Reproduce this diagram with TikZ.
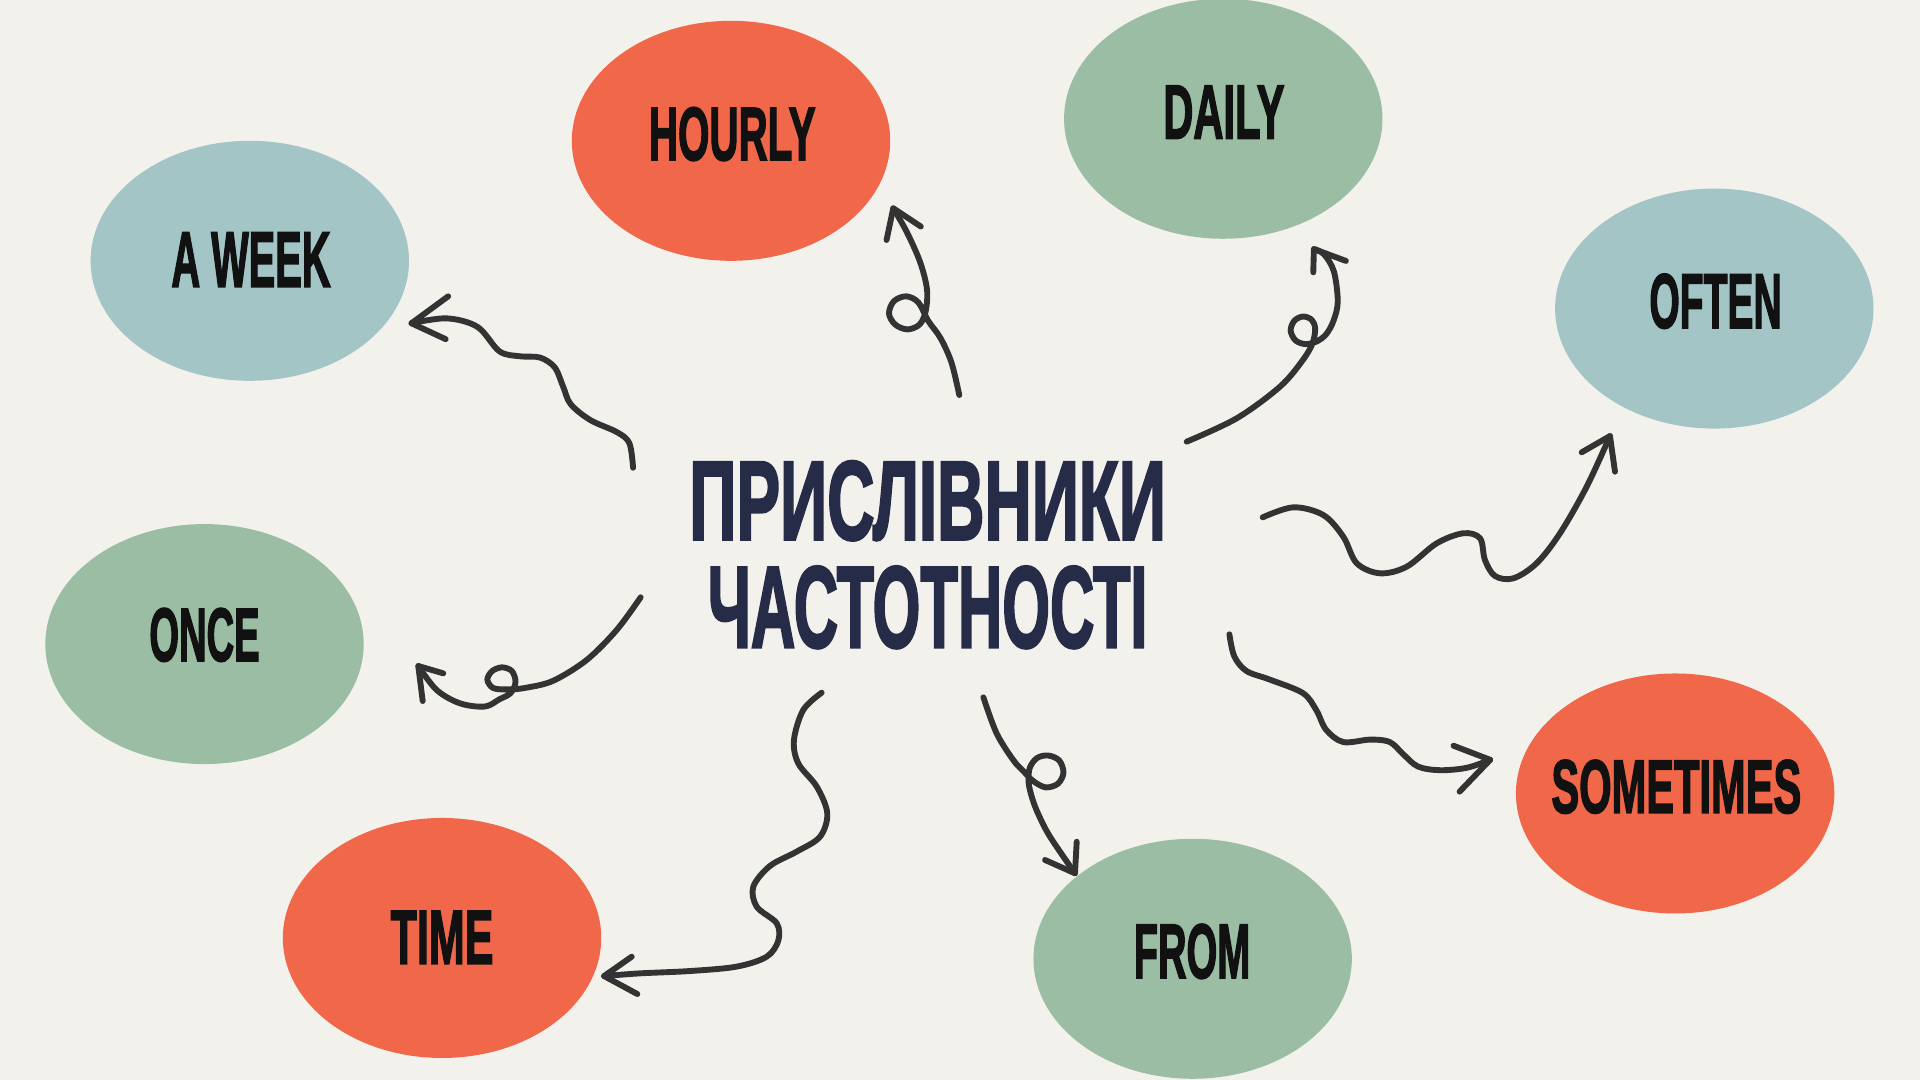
\documentclass[tikz,border=0pt]{standalone}
\usepackage{fontspec}
\usepackage{graphicx}
\newfontfamily\labfont[FakeBold=2.5]{Liberation Sans Bold}
\usetikzlibrary{shapes.geometric}
\definecolor{bg}{HTML}{F2F1EC}
\definecolor{redc}{HTML}{F0674A}
\definecolor{greenc}{HTML}{9BBDA3}
\definecolor{bluec}{HTML}{A3C5C5}
\definecolor{labc}{HTML}{111111}
\definecolor{titlec}{HTML}{262B47}
\definecolor{linec}{HTML}{333333}
\newcommand\fitbox[3]{\resizebox{#1pt}{#2pt}{#3}}
\tikzset{
  blob/.style={ellipse, minimum width=260pt, minimum height=196pt, inner sep=0pt, draw=none},
  lab/.style={inner sep=0pt, font=\labfont, text=labc},
  ttl/.style={inner sep=0pt, font=\labfont, text=titlec},
  conn/.style={draw=linec, line width=4.8pt, line cap=round, line join=round},
  wig/.style={smooth, tension=0.55}
}
\begin{document}
\begin{tikzpicture}[x=1pt,y=-1pt]
\useasboundingbox (0,0) rectangle (1568,882);
\fill[bg] (0,0) rectangle (1568,882);

% ellipses
\node[blob, fill=redc]   (hourly) at (597,115) {};
\node[blob, fill=greenc] (daily)  at (999,97) {};
\node[blob, fill=bluec]  (aweek)  at (204,213) {};
\node[blob, fill=bluec]  (often)  at (1400,252) {};
\node[blob, fill=greenc] (once)   at (167,526) {};
\node[blob, fill=redc]   (sometimes) at (1368,648) {};
\node[blob, fill=redc]   (time)   at (361,766) {};
\node[blob, fill=greenc] (from)   at (974,783) {};

% labels
\node[lab] (thourly) at (598,109.5) {\fitbox{136}{43}{HOURLY}};
\node[lab] (tdaily)  at (999.5,91.5) {\fitbox{99}{43}{DAILY}};
\node[lab] (taweek)  at (205,212) {\fitbox{130}{44}{A WEEK}};
\node[lab] (toften)  at (1401,246) {\fitbox{108}{44}{OFTEN}};
\node[lab] (tonce)   at (167,518.5) {\fitbox{90}{43}{ONCE}};
\node[lab] (tsome)   at (1369,642.5) {\fitbox{204}{43}{SOMETIMES}};
\node[lab] (ttime)   at (361,765.5) {\fitbox{84}{43}{TIME}};
\node[lab] (tfrom)   at (973.5,777) {\fitbox{95}{44}{FROM}};

% title
\node[ttl] (title1) at (757.5,409) {\fitbox{389}{64}{ПРИСЛІВНИКИ}};
\node[ttl] (title2) at (757.5,496) {\fitbox{359}{66}{ЧАСТОТНОСТІ}};

% connector end points
\coordinate (aw-s) at (517,382);
\coordinate (aw-t) at (336,264);
\coordinate (aw-a1) at (366,242);
\coordinate (aw-a2) at (364,277);

\coordinate (ho-s) at (783.4,322.6);
\coordinate (ho-t) at (729.5,170.1);
\coordinate (ho-a1) at (724,196);
\coordinate (ho-a2) at (752,185);

\coordinate (da-s) at (969.1,360.7);
\coordinate (da-t) at (1073,203.4);
\coordinate (da-a1) at (1072.5,222.4);
\coordinate (da-a2) at (1099.2,213.1);

\coordinate (of-s) at (1031.2,422.5);
\coordinate (of-t) at (1314.8,356.1);
\coordinate (of-a1) at (1291.7,369.4);
\coordinate (of-a2) at (1318.9,385.2);

\coordinate (on-s) at (523.2,487.8);
\coordinate (on-t) at (341.6,543.9);
\coordinate (on-a1) at (362,549.9);
\coordinate (on-a2) at (345.2,572.5);

\coordinate (ti-s) at (671,565.7);
\coordinate (ti-t) at (493.3,797.1);
\coordinate (ti-a1) at (515.9,781.3);
\coordinate (ti-a2) at (520.5,811.8);

\coordinate (fr-s) at (803.1,569.5);
\coordinate (fr-t) at (877.9,713.2);
\coordinate (fr-a1) at (853.4,702.3);
\coordinate (fr-a2) at (879.3,687.4);

\coordinate (so-s) at (1004,518);
\coordinate (so-t) at (1217,620.5);
\coordinate (so-a1) at (1187,609);
\coordinate (so-a2) at (1192,646.5);

% A WEEK
\draw[conn] plot[wig] coordinates {(aw-s) (514,362) (504,353) (482,343) (466,330) (460,316) (453,300) (441,292) (425,291) (408,287) (390,267) (365,260) (aw-t)};
\draw[conn] (aw-a1) -- (aw-t) -- (aw-a2);

% HOURLY
\draw[conn] plot[wig] coordinates {(ho-s) (777,296) (768,276) (758,262) (750,247) (740,242) (730,246) (726,256) (731,265) (741,269) (751,265) (756,254) (757,236) (751.3,213.7) (740.4,189.2) (ho-t)};
\draw[conn] (ho-a1) -- (ho-t) -- (ho-a2);

% DAILY
\draw[conn] plot[wig] coordinates {(da-s) (1010,341.6) (1045.3,315.8) (1064,294) (1072,280) (1074,268) (1071,261) (1064,258.5) (1057,262) (1054,270) (1058,278) (1066,281) (1075,279) (1083,273) (1089,262) (1092.5,246.4) (1089.4,221.9) (1081.3,207.7) (da-t)};
\draw[conn] (da-a1) -- (da-t) -- (da-a2);

% OFTEN
\draw[conn] plot[wig] coordinates {(of-s) (1056.2,414.3) (1080.7,420.6) (1097,438.3) (1108,460) (1127,468.2) (1148.8,462.8) (1173.3,443.7) (1195,435.5) (1208.7,439.6) (1212.7,457.3) (1220.9,470.4) (1235.9,472.3) (1254.9,460) (1274,435.5) (1295.8,397.4) (of-t)};
\draw[conn] (of-a1) -- (of-t) -- (of-a2);

% ONCE
\draw[conn] plot[wig] coordinates {(on-s) (503.6,514.5) (479.1,539) (451.9,555.9) (430,561.6) (416,563) (403,562) (398,555) (402,548) (410,545) (418,548) (421,557) (417,566) (408,571) (396,577) (375.7,574.4) (356.6,563.5) (on-t)};
\draw[conn] (on-a1) -- (on-t) -- (on-a2);

% TIME
\draw[conn] plot[wig] coordinates {(ti-s) (656,579.8) (648.4,604.3) (651.9,623.4) (667,642.4) (675.6,664.2) (669.7,683.3) (650.6,695.5) (628.8,707.2) (615.2,724.1) (618,740.5) (634.3,754) (635.6,768.2) (626.1,781.3) (601.6,789.4) (563.5,793) (522.7,794.9) (ti-t)};
\draw[conn] (ti-a1) -- (ti-t) -- (ti-a2);

% FROM
\draw[conn] plot[wig] coordinates {(fr-s) (813.9,598.9) (827.5,620.7) (836,630) (844,638) (854,643) (864,640) (868.5,631) (865,621) (856,617) (847,619) (841,627) (840,639) (843,652) (848,665) (857.5,683.3) (fr-t)};
\draw[conn] (fr-a1) -- (fr-t) -- (fr-a2);

% SOMETIMES
\draw[conn] plot[wig] coordinates {(so-s) (1008,536) (1018,548) (1037,555) (1064,566) (1075,580) (1083,596) (1097,606) (1119,604) (1135,606) (1146,616) (1158,626) (1176,629) (1198,627) (so-t)};
\draw[conn] (so-a1) -- (so-t) -- (so-a2);
\end{tikzpicture}
\end{document}
